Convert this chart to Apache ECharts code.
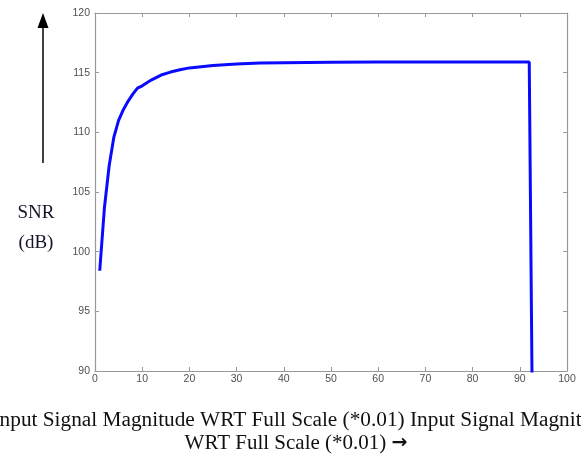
<!DOCTYPE html>
<html><head><meta charset="utf-8">
<script src="https://cdn.jsdelivr.net/npm/echarts@6/dist/echarts.min.js"></script>
<style>html,body{margin:0;padding:0;background:#fff}#c{width:581px;height:457px}</style>
</head><body><div id="c"></div>
<script>
const magnitudes = [1,2,3,4,5,6,7,8,9,10,11,12,14,16,18,20,25,30,35,40,50,60,70,80,92,92.6];
const snrValues = [98.4,103.7,107.2,109.6,111.0,111.9,112.6,113.2,113.7,113.9,114.15,114.4,114.8,115.05,115.25,115.4,115.6,115.72,115.8,115.83,115.87,115.9,115.9,115.9,115.9,89];
const xTicks = {min:0, max:100, interval:10};
const yTicks = {min:90, max:120, interval:5};
const xTitleLine1 = 'Input Signal Magnitude WRT Full Scale (*0.01) Input Signal Magnitude';
const xTitleLine2 = 'WRT Full Scale (*0.01) ';
const xTitleArrow = '\u2192';
const yTitle = 'SNR\n(dB)';

const chart = echarts.init(document.getElementById('c'), null, {renderer:'canvas'});
const axisCol = '#999999';
const lab = {color:'#505050', fontFamily:'Liberation Sans, Arial', fontSize:10.5};
function xAx(pos, showLabel){
  return {type:'value', position:pos, min:xTicks.min, max:xTicks.max, interval:xTicks.interval,
    axisLine:{show:true, onZero:false, lineStyle:{color:axisCol, width:1.2}},
    axisTick:{show:true, inside:true, length:4, lineStyle:{color:axisCol}},
    axisLabel:Object.assign({show:showLabel, margin:3}, lab), splitLine:{show:false}};
}
function yAx(pos, showLabel){
  return {type:'value', position:pos, min:yTicks.min, max:yTicks.max, interval:yTicks.interval,
    axisLine:{show:true, onZero:false, lineStyle:{color:axisCol, width:1.2}},
    axisTick:{show:true, inside:true, length:4, lineStyle:{color:axisCol}},
    axisLabel:Object.assign({show:showLabel, margin:5}, lab), splitLine:{show:false}};
}
const serif = '"Liberation Serif", "Times New Roman", serif';
chart.setOption({
  animation:false,
  backgroundColor:'#fff',
  grid:{left:95, right:14, top:13, bottom:86},
  xAxis:[xAx('bottom', true), xAx('top', false)],
  yAxis:[yAx('left', true), yAx('right', false)],
  series:[{type:'line', xAxisIndex:0, yAxisIndex:0, symbol:'none', smooth:false, clip:true,
    lineStyle:{color:'#0a0aff', width:3},
    data: magnitudes.map((m,i)=>[m, snrValues[i]])}],
  graphic:[
    {type:'text', x:-7.5, y:420, style:{text:xTitleLine1, textVerticalAlign:'middle', font:'21.3px ' + serif, fill:'#111'}},
    {type:'text', x:296, y:443, style:{
      text:'{a|' + xTitleLine2 + '}{b|' + xTitleArrow + '}', textAlign:'center', textVerticalAlign:'middle',
      rich:{a:{fontFamily:serif, fontSize:21, fill:'#111', color:'#111'}, b:{fontFamily:'DejaVu Sans', fontSize:19, fontWeight:'bold', color:'#111', fill:'#111'}}}},
    {type:'text', x:36, y:228, style:{text:yTitle, textAlign:'center', textVerticalAlign:'middle', lineHeight:30, font:'19px ' + serif, fill:'#14142a'}},
    {type:'line', shape:{x1:43, y1:163, x2:43, y2:26}, style:{stroke:'#000', lineWidth:1.5}},
    {type:'polygon', shape:{points:[[43,13],[37.5,28],[48.5,28]]}, style:{fill:'#000'}}
  ]
});
</script></body></html>
